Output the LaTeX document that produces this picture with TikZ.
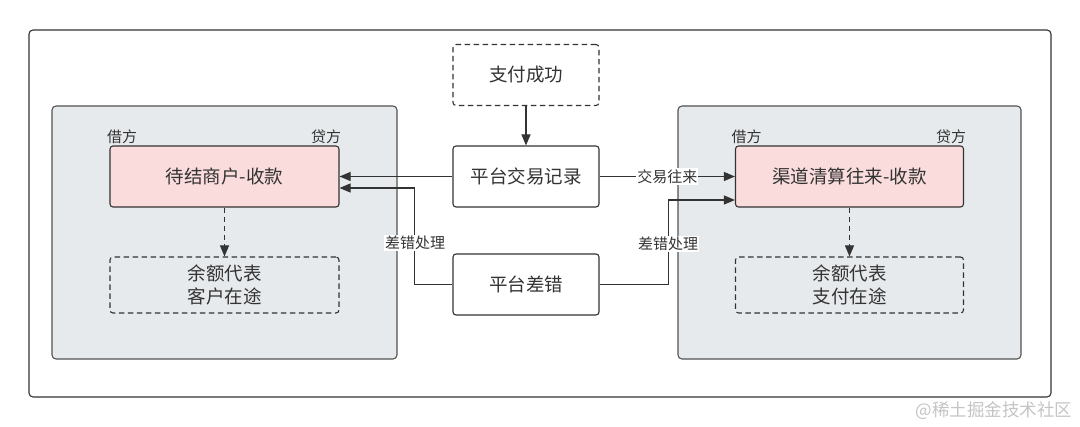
\documentclass[tikz,border=0pt]{standalone}
\usepackage{fontspec}
\setmainfont{Noto Sans CJK SC}
\usetikzlibrary{arrows.meta}
\definecolor{ink}{HTML}{333333}
\definecolor{grp}{HTML}{E7EAEC}
\definecolor{pinkbox}{HTML}{FADCDC}
\definecolor{wm}{HTML}{C4C4C4}
\tikzset{
  dsh/.style={dash pattern=on 5.5pt off 3.5pt},
  base/.style={draw=ink, line width=1.1pt, rounded corners=3pt, inner sep=0pt, align=center, text=ink, font=\fontsize{18.5}{23}\selectfont},
  grpbox/.style={draw=ink!85, fill=grp, line width=1.1pt, rounded corners=4pt, inner sep=0pt},
  acct/.style={base, fill=pinkbox, minimum width=229pt, minimum height=61pt},
  note/.style={base, dsh, fill=grp, minimum width=229pt, minimum height=56pt},
  proc/.style={base, fill=white, minimum width=146pt, minimum height=61pt},
  lbl/.style={text=ink, font=\fontsize{15}{18}\selectfont, inner sep=1pt},
  wlbl/.style={lbl, fill=white},
  arr/.style={draw=ink, line width=1.1pt, -{Triangle[length=11pt,width=9pt]}},
}
\begin{document}
\begin{tikzpicture}[x=1pt,y=-1pt]
\useasboundingbox (0,0) rectangle (1080,427);
% outer frame
\draw[ink, line width=1.1pt, rounded corners=4pt] (29,30) rectangle (1051,397);
% groups
\node[grpbox, minimum width=345pt, minimum height=253pt] (gl) at (224.5,232.5) {};
\node[grpbox, minimum width=343pt, minimum height=253pt] (gr) at (849.5,232.5) {};
% accounts
\node[acct] (lp) at (224.5,176.5) {待结商户-收款};
\node[note] (ld) at (224.5,285) {余额代表\\客户在途};
\node[acct, minimum width=228pt] (rp) at (849.5,176.5) {渠道清算往来-收款};
\node[note, minimum width=228pt] (rd) at (849.5,285) {余额代表\\支付在途};
% side labels
\node[lbl] (ljf) at (122,137) {借方};
\node[lbl] (ldf) at (326,137) {贷方};
\node[lbl] (rjf) at (746.5,137) {借方};
\node[lbl] (rdf) at (951,137) {贷方};
% middle
\node[proc, dsh] (pay) at (526,75) {支付成功};
\node[proc] (rec) at (526,176.5) {平台交易记录};
\node[proc] (err) at (526,284.5) {平台差错};
% connectors
\coordinate (lin) at ([yshift=-11.5pt]lp.east);
\coordinate (rin) at ([yshift=-23.5pt]rp.west);
\draw[arr] (pay) -- (rec);
\draw[arr] (rec.west) -- (lp.east);
\draw[arr] (err.west) -- ++(-38,0) |- (lin);
\draw[arr] (rec.east) -- node[wlbl] (l2) {交易往来} (rp.west);
\draw[arr] (err.east) -- ++(69,0) |- (rin);
\node[wlbl] (l1) at (415,243) {差错处理};
\node[wlbl] (l3) at (668,244) {差错处理};
\draw[arr, dsh] (lp.south) -- (ld.north);
\draw[arr, dsh] (rp.south) -- (rd.north);
% watermark
\node[text=wm, font=\fontsize{17.5}{20}\selectfont, inner sep=0pt] (wmk) at (994,411) {@稀土掘金技术社区};
\end{tikzpicture}
\end{document}
